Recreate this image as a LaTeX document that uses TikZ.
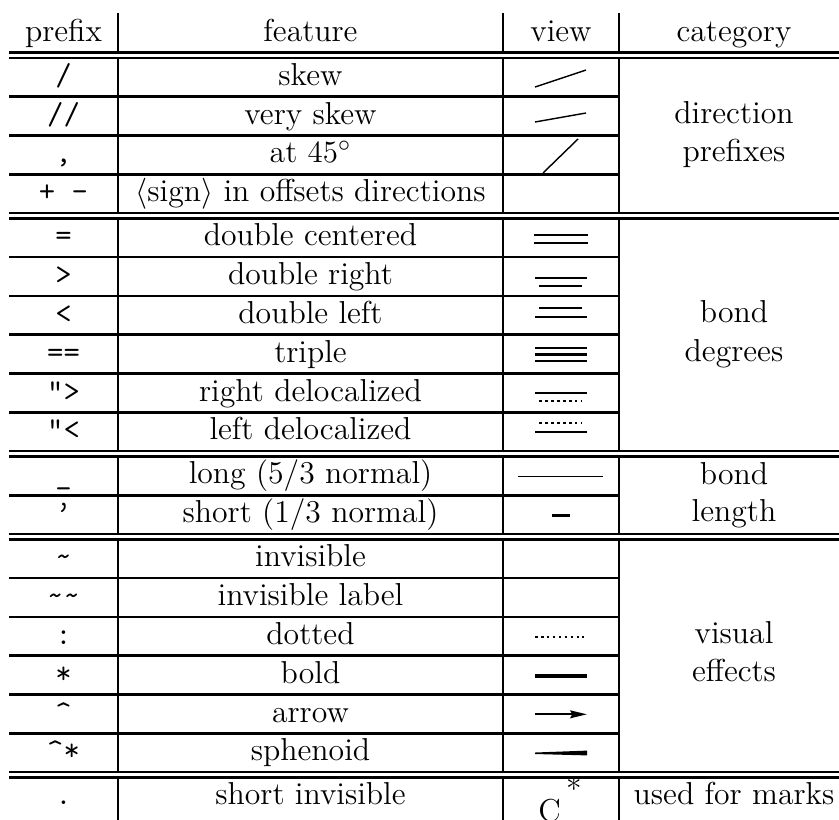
\documentclass[tikz,border=0pt]{standalone}
\usetikzlibrary{arrows.meta}
\tikzset{
  txt/.style={anchor=base, inner sep=0pt, font=\fontsize{12.3}{14.8}\selectfont},
  pre/.style={anchor=base, inner sep=0pt, font=\fontsize{12.3}{14.8}\selectfont\ttfamily},
  rulel/.style={line width=1.05pt},
  thinb/.style={line width=0.55pt},
  dblb/.style={line width=0.9pt},
  dotb/.style={line width=0.9pt, dash pattern=on 1pt off 1.3pt},
}
\begin{document}
\begin{tikzpicture}[x=0.3876pt, y=-0.3876pt]
\useasboundingbox (0,0) rectangle (839,819);
% vertical rules (interrupted by the double rules)
\foreach \a/\b in {13/52.7, 58/213, 218.3/451.1, 456.4/534, 539.3/772.1, 777.4/830} {
  \foreach \x in {118,503,619} \draw[rulel] (\x,\a) -- (\x,\b);
}
% double rules
\foreach \y in {52.7,58, 213,218.3, 451.1,456.4, 534,539.3, 772.1,777.4}
  \draw[rulel] (9,\y) -- (839,\y);
% single rules
\foreach \y in {96.6,135.4,174.2, 257.1,295.9,334.7,373.5,412.3, 495.2, 578.1,616.9,655.7,694.5,733.3}
  \draw[rulel] (9,\y) -- (619,\y);

% header
\node[txt] (hpre) at (63.5,41.4) {prefix};
\node[txt] (hfea) at (310.5,41.4) {feature};
\node[txt] (hview) at (561,41.4) {view};
\node[txt] (hcat) at (734,41.4) {category};

% section 1
\node[pre] (p1) at (63.5,85.3) {/};
\node[pre] (p2) at (63.5,124.1) {//};
\node[pre] (p3) at (63.5,162.9) {,};
\node[pre] (p4) at (63.5,201.7) {+ -};
\node[txt] (f1) at (310.5,85.3) {skew};
\node[txt] (f2) at (310.5,124.1) {very skew};
\node[txt] (f3) at (310.5,162.9) {at $45^\circ$};
\node[txt] (f4) at (310.5,201.7) {$\langle$sign$\rangle$ in offsets directions};
\node[txt] (c1a) at (734,123.5) {direction};
\node[txt] (c1b) at (734,161) {prefixes};

% section 2
\node[pre] (p5) at (63.5,245.8) {=};
\node[pre] (p6) at (63.5,284.6) {>};
\node[pre] (p7) at (63.5,323.4) {<};
\node[pre] (p8) at (63.5,362.2) {==};
\node[pre] (p9) at (63.5,401.0) {">};
\node[pre] (p10) at (63.5,439.8) {"<};
\node[txt] (f5) at (310.5,245.8) {double centered};
\node[txt] (f6) at (310.5,284.6) {double right};
\node[txt] (f7) at (310.5,323.4) {double left};
\node[txt] (f8) at (310.5,362.2) {triple};
\node[txt] (f9) at (310.5,401.0) {right delocalized};
\node[txt] (f10) at (310.5,439.8) {left delocalized};
\node[txt] (c2a) at (734,322.7) {bond};
\node[txt] (c2b) at (734,361) {degrees};

% section 3
\node[pre] (p11) at (63.5,483.9) {\_};
\node[pre] (p12) at (63.5,522.7) {\textquoteright};
\node[txt] (f11) at (310.5,483.9) {long (5/3 normal)};
\node[txt] (f12) at (310.5,522.7) {short (1/3 normal)};
\node[txt] (c3a) at (734,484) {bond};
\node[txt] (c3b) at (734,521.7) {length};

% section 4
\node[pre] (p13) at (63.5,566.8) {\~{}};
\node[pre] (p14) at (63.5,605.6) {\~{}\~{}};
\node[pre] (p15) at (63.5,644.4) {:};
\node[pre] (p16) at (63.5,683.2) {*};
\node[pre] (p17) at (63.5,722.0) {\^{}};
\node[pre] (p18) at (63.5,760.8) {\^{}*};
\node[txt] (f13) at (310.5,566.8) {invisible};
\node[txt] (f14) at (310.5,605.6) {invisible label};
\node[txt] (f15) at (310.5,644.4) {dotted};
\node[txt] (f16) at (310.5,683.2) {bold};
\node[txt] (f17) at (310.5,722.0) {arrow};
\node[txt] (f18) at (310.5,760.8) {sphenoid};
\node[txt] (c4a) at (734,643.3) {visual};
\node[txt] (c4b) at (734,681.7) {effects};

% last row
\node[pre] (p19) at (63.5,804.9) {.};
\node[txt] (f19) at (310.5,804.9) {short invisible};
\node[txt] (c5) at (734,804.9) {used for marks};
\node[txt] (atomC) at (549.5,821.7) {C};
\node[txt, anchor=center] (star) at (574,789) {*};

% view drawings
\draw[thinb] (535,87) -- (586,70);
\draw[thinb] (535,122) -- (586,113);
\draw[thinb] (543,173) -- (578,139);

\draw[dblb] (534,235) -- (588,235);
\draw[dblb] (534,243.3) -- (588,243.3);

\draw[dblb] (535,277.7) -- (587,277.7);
\draw[dblb] (539.3,285.7) -- (581.7,285.7);

\draw[dblb] (539.3,308.3) -- (581.7,308.3);
\draw[dblb] (535,316.7) -- (587,316.7);

\draw[dblb] (535,348.3) -- (587,348.3);
\draw[dblb] (535,354.6) -- (587,354.6);
\draw[dblb] (535,361) -- (587,361);

\draw[dblb] (535,392.7) -- (587,392.7);
\draw[dotb] (539.3,401) -- (581.7,401);

\draw[dotb] (539.3,422.7) -- (581.7,422.7);
\draw[dblb] (535,431.7) -- (587,431.7);

\draw[thinb] (517.7,476.7) -- (602.7,476.7);
\draw[line width=1pt] (551.7,515.3) -- (570,515.3);

\draw[dotb] (535,637.3) -- (584,637.3);
\draw[line width=1.35pt] (535,676) -- (587,676);
\draw[dblb, -{Stealth[length=6.5pt,width=3pt,inset=0.8pt]}] (535,714.3) -- (587,714.3);
\fill (535,752.5) -- (587,750.6) -- (587,755.4) -- (535,754) -- cycle;
\end{tikzpicture}
\end{document}
